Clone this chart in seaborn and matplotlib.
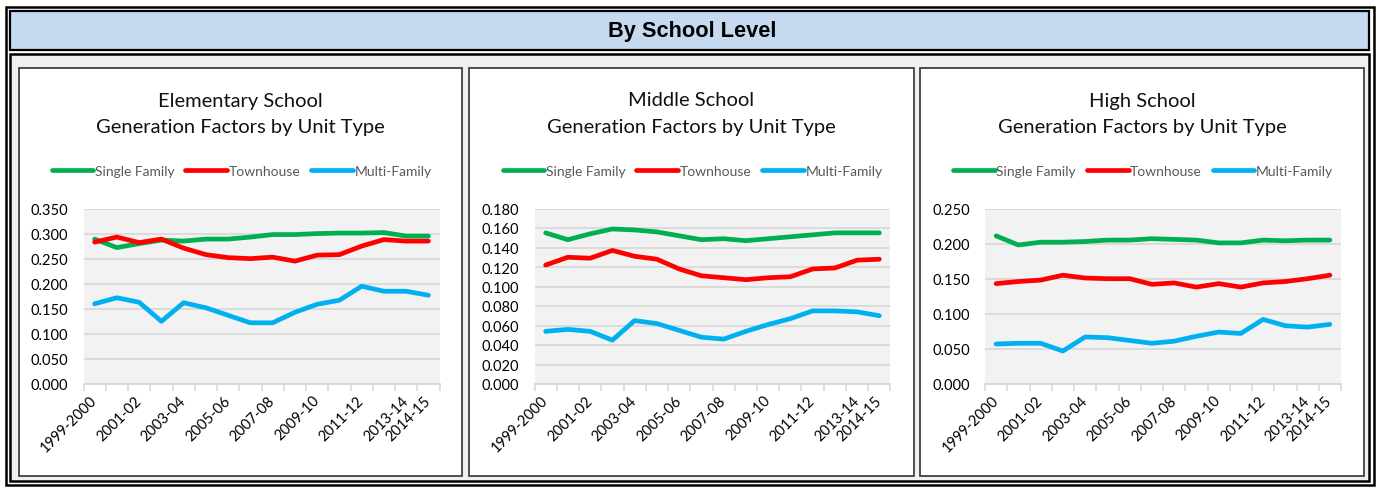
import numpy as np
import pandas as pd
import matplotlib
matplotlib.use("Agg")
import matplotlib.pyplot as plt
import seaborn as sns
from matplotlib.patches import Rectangle
from matplotlib.ticker import FormatStrFormatter

# ---------------- data ----------------
years = ["1999-2000", "2000-01", "2001-02", "2002-03", "2003-04", "2004-05",
         "2005-06", "2006-07", "2007-08", "2008-09", "2009-10", "2010-11",
         "2011-12", "2012-13", "2013-14", "2014-15"]
shown_labels = ["1999-2000", "2001-02", "2003-04", "2005-06", "2007-08",
                "2009-10", "2011-12", "2013-14", "2014-15"]
unit_types = ["Single Family", "Townhouse", "Multi-Family"]
colors = ["#00B050", "#FF0000", "#00B0F0"]

elem_single = [0.289, 0.272, 0.280, 0.287, 0.285, 0.289, 0.289, 0.293, 0.298, 0.298, 0.300, 0.301, 0.301, 0.302, 0.295, 0.295]
elem_town = [0.283, 0.293, 0.282, 0.289, 0.271, 0.258, 0.252, 0.250, 0.253, 0.245, 0.257, 0.258, 0.275, 0.288, 0.285, 0.285]
elem_multi = [0.160, 0.172, 0.163, 0.125, 0.162, 0.152, 0.137, 0.122, 0.122, 0.143, 0.159, 0.167, 0.195, 0.185, 0.185, 0.177]

mid_single = [0.155, 0.148, 0.154, 0.159, 0.158, 0.156, 0.152, 0.148, 0.149, 0.147, 0.149, 0.151, 0.153, 0.155, 0.155, 0.155]
mid_town = [0.122, 0.130, 0.129, 0.137, 0.131, 0.128, 0.118, 0.111, 0.109, 0.107, 0.109, 0.110, 0.118, 0.119, 0.127, 0.128]
mid_multi = [0.054, 0.056, 0.054, 0.045, 0.065, 0.062, 0.055, 0.048, 0.046, 0.054, 0.061, 0.067, 0.075, 0.075, 0.074, 0.070]

high_single = [0.211, 0.198, 0.202, 0.202, 0.203, 0.205, 0.205, 0.207, 0.206, 0.205, 0.201, 0.201, 0.205, 0.204, 0.205, 0.205]
high_town = [0.143, 0.146, 0.148, 0.155, 0.151, 0.150, 0.150, 0.142, 0.144, 0.138, 0.143, 0.138, 0.144, 0.146, 0.150, 0.155]
high_multi = [0.057, 0.058, 0.058, 0.047, 0.067, 0.066, 0.062, 0.058, 0.061, 0.068, 0.074, 0.072, 0.092, 0.083, 0.081, 0.085]

panel_titles = ["Elementary School", "Middle School", "High School"]
subtitle = "Generation Factors by Unit Type"
header = "By School Level"
y_maxes = [0.35, 0.18, 0.25]
y_steps = [0.05, 0.02, 0.05]

panels = [(elem_single, elem_town, elem_multi),
          (mid_single, mid_town, mid_multi),
          (high_single, high_town, high_multi)]

# ---------------- figure ----------------
W, H = 1380, 489
sns.set_theme(style="white")
plt.rcParams["font.family"] = ["Lato", "DejaVu Sans"]
plt.rcParams["text.color"] = "black"
fig = plt.figure(figsize=(W / 100, H / 100), dpi=100)
fig.patch.set_facecolor("white")


def fx(x):
    return x / W


def fy(y):
    return 1 - y / H


def rect_px(x0, y0, x1, y1, **kw):
    r = Rectangle((fx(x0), fy(y1)), fx(x1) - fx(x0), fy(y0) - fy(y1),
                  transform=fig.transFigure, **kw)
    fig.add_artist(r)
    return r


# outer frame decorations
rect_px(5.5, 7.5, 1373.5, 486, fill=False, edgecolor="black", linewidth=1.8, zorder=0)
rect_px(10, 12, 1369, 51, facecolor="#C5D9F1", edgecolor="black", linewidth=1.6, zorder=0)
rect_px(10, 55, 1369, 481.5, facecolor="#F0F0F0", edgecolor="black", linewidth=1.8, zorder=0)
fig.text(fx(692.5), fy(32), header, ha="center", va="center", fontsize=15.7,
         fontweight="bold", color="black", family=["Liberation Sans", "DejaVu Sans"])

panel_left = [18.5, 469.5, 920]
panel_w = 444
ax_left_off = 65
ax_w = 356
ax_top, ax_bot = 209.5, 385

for i, (vals, title, ymax, ystep) in enumerate(zip(panels, panel_titles, y_maxes, y_steps)):
    pl = panel_left[i]
    rect_px(pl, 68.5, pl + panel_w, 477, facecolor="white", edgecolor="#404040",
            linewidth=1.3, zorder=0)
    cx = pl + panel_w / 2
    fig.text(fx(cx), fy(101), title, ha="center", va="center", fontsize=14.5, color="#111111")
    fig.text(fx(cx), fy(128), subtitle, ha="center", va="center", fontsize=14.5, color="#111111")

    ax = fig.add_axes([fx(pl + ax_left_off), fy(ax_bot), ax_w / W, (ax_bot - ax_top) / H])
    ax.set_facecolor("#F2F2F2")

    df = pd.DataFrame({
        "Year": years * 3,
        "Factor": list(vals[0]) + list(vals[1]) + list(vals[2]),
        "Unit Type": [unit_types[0]] * len(years) + [unit_types[1]] * len(years) + [unit_types[2]] * len(years),
    })
    sns.lineplot(data=df, x="Year", y="Factor", hue="Unit Type", hue_order=unit_types,
                 palette=colors, linewidth=3.4, ax=ax, sort=False,
                 legend=True)
    for ln in ax.get_lines():
        ln.set_solid_capstyle("round")
        ln.set_solid_joinstyle("round")

    ax.set_xlim(-0.5, len(years) - 0.5)
    ax.set_ylim(0, ymax)
    ticks = np.arange(0, ymax + ystep / 2, ystep)
    ax.set_yticks(ticks)
    ax.yaxis.set_major_formatter(FormatStrFormatter("%.3f"))
    ax.grid(axis="y", color="#D9D9D9", linewidth=1.3)
    ax.set_axisbelow(True)
    ax.tick_params(axis="y", length=0, pad=11, labelsize=10.5, labelcolor="black")

    ax.set_xticks(np.arange(-0.5, len(years), 1.0))
    ax.set_xticklabels([])
    pos = [years.index(l) for l in shown_labels]
    ax.set_xticks(pos, minor=True)
    ax.set_xticklabels(shown_labels, minor=True, rotation=45, ha="right",
                       va="center", rotation_mode="anchor", fontsize=10.5)
    ax.tick_params(axis="x", which="major", length=5, width=1.2, color="#D9D9D9", direction="out",
                   bottom=True)
    ax.tick_params(axis="x", which="minor", length=0, pad=10, bottom=True, labelcolor="black")
    ax.set_xlabel("")
    ax.set_ylabel("")
    for s in ["top", "left", "right"]:
        ax.spines[s].set_visible(False)
    ax.spines["bottom"].set_color("#D9D9D9")
    ax.spines["bottom"].set_linewidth(1.3)

    handles, labels = ax.get_legend_handles_labels()
    ax.legend_.remove()
    for h in handles:
        h.set_linewidth(3.4)
        h.set_solid_capstyle("round")
    fig.legend(handles, labels, loc="center", bbox_to_anchor=(fx(cx + 1), fy(172)),
               bbox_transform=fig.transFigure, ncol=3, frameon=False,
               fontsize=10, handlelength=3.0, handletextpad=0.1,
               columnspacing=0.8, labelcolor="#595959")

fig.savefig("out.png", dpi=100)
